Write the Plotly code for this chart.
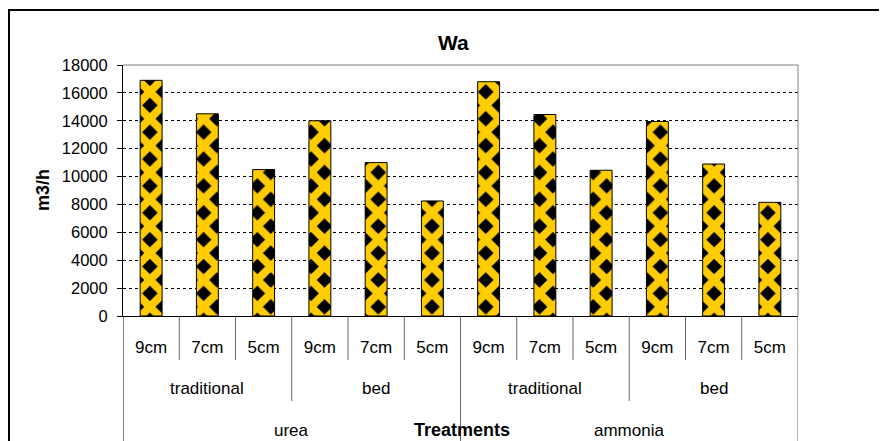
import plotly.graph_objects as go

# ---- data ----
fertilizers = ["urea", "ammonia"]
methods = ["traditional", "bed"]
spacings = ["9cm", "7cm", "5cm"]
wa_values = [16900, 14500, 10500, 14000, 11000, 8250,
             16800, 14450, 10450, 13950, 10900, 8150]
y_ticks = list(range(0, 18001, 2000))

n_sp = len(spacings)
n_me = len(methods)
n = len(wa_values)
x_idx = list(range(n))
tick_text = [spacings[i % n_sp] for i in range(n)]

W, H = 887, 441
OFF = 8  # page body margin offset
# plot area in screen pixels: x 123..798, y 65..316
L, T = 123 - OFF, 65 - OFF
PW, PH = 675, 251
R = W - L - PW
B = H - T - PH


def py(pix):  # screen pixel y -> paper y
    return (316 - pix) / PH


def px(pix):  # screen pixel x -> paper x
    return (pix - 123) / PW


FONT = "Liberation Sans, Arial, sans-serif"

fig = go.Figure(go.Bar(
    x=x_idx, y=wa_values, width=0.39,
    marker=dict(
        color="#FFCC00",
        line=dict(color="black", width=1),
        pattern=dict(shape="x", fgcolor="#FFCC00", bgcolor="black",
                     size=19, solidity=0.66, fillmode="replace"),
    ),
    showlegend=False,
))

shapes = []
for i in range(n + 1):
    xv = i - 0.5
    if i == 0 or i == n or i % (n_sp * n_me) == 0:
        y1 = py(470)
    elif i % n_sp == 0:
        y1 = py(401)
    else:
        y1 = py(360)
    col = "black" if i == 0 else "#666666"
    shapes.append(dict(type="line", xref="x", yref="paper", x0=xv, x1=xv,
                       y0=0, y1=y1, line=dict(color=col, width=1)))
shapes.append(dict(type="line", xref="paper", yref="paper", x0=0, x1=1, y0=1, y1=1,
                   line=dict(color="#808080", width=1)))
shapes.append(dict(type="line", xref="paper", yref="paper", x0=1, x1=1, y0=0, y1=1,
                   line=dict(color="#808080", width=1)))
shapes.append(dict(type="rect", xref="paper", yref="paper",
                   x0=px(9), x1=px(930), y0=py(480), y1=py(10),
                   line=dict(color="black", width=2)))


def ann(x, y, text, size, xref="paper", angle=0):
    return dict(x=x, y=y, xref=xref, yref="paper", text=text, showarrow=False,
                xanchor="center", yanchor="middle", textangle=angle,
                font=dict(size=size, color="black", family=FONT))


annotations = []
for f_i, f in enumerate(fertilizers):
    for m_i, m in enumerate(methods):
        c = f_i * n_sp * n_me + m_i * n_sp + (n_sp - 1) / 2
        annotations.append(ann(c, py(388), m, 17, xref="x"))
    c = f_i * n_sp * n_me + (n_sp * n_me - 1) / 2
    annotations.append(ann(c, py(430), f, 17, xref="x"))
annotations.append(ann(px(462), py(430), "<b>Treatments</b>", 18))
annotations.append(ann(px(43), py(190), "<b>m3/h</b>", 18, angle=-90))
annotations.append(ann(px(453), py(42), "<b>Wa</b>", 21))

fig.update_layout(
    width=W, height=H,
    margin=dict(l=L, r=R, t=T, b=B, pad=0),
    paper_bgcolor="white", plot_bgcolor="white",
    font=dict(family=FONT, size=17, color="black"),
    shapes=shapes, annotations=annotations,
    xaxis=dict(range=[-0.5, n - 0.5], tickmode="array", tickvals=x_idx,
               ticktext=tick_text, ticks="", showgrid=False, zeroline=False,
               showline=True, linecolor="black", linewidth=1,
               ticklabelstandoff=16, tickfont=dict(size=17)),
    yaxis=dict(range=[0, 18000], tickmode="array", tickvals=y_ticks,
               ticktext=[str(v) for v in y_ticks],
               ticks="outside", ticklen=5, tickcolor="black",
               showgrid=True, gridcolor="black", gridwidth=1, griddash="3px,3px",
               zeroline=False, showline=True, linecolor="black", linewidth=1,
               ticklabelstandoff=6, tickfont=dict(size=16.5)),
)

fig.write_html("out.html")
